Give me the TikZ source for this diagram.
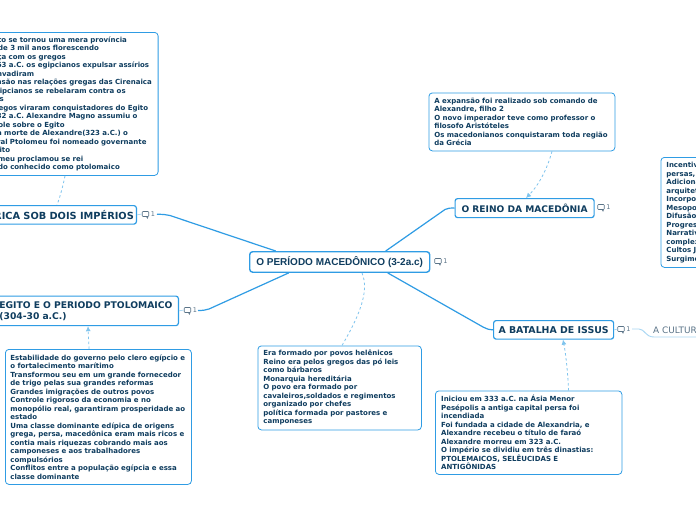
\documentclass[tikz,border=0pt]{standalone}
\usepackage{fontspec}
\setmainfont{DejaVu Sans}
\newfontfamily\rootfont{Liberation Sans}
\usetikzlibrary{arrows.meta}
\definecolor{ink}{HTML}{0F3D5F}
\definecolor{edge}{HTML}{2F9CE4}
\definecolor{dashc}{HTML}{7FC4EE}
\definecolor{pale}{HTML}{A9D7F3}
\definecolor{grayink}{HTML}{5B7488}
\tikzset{
 x=1pt,y=-1pt,
 notebox/.style={draw=edge,line width=0.8pt,rounded corners=3.5pt,fill=white,anchor=north west,inner sep=0pt,text=ink,align=left,font=\fontsize{7}{8.5}\selectfont\bfseries},
 topic/.style={draw=edge,line width=1.2pt,rounded corners=2.5pt,fill=white,anchor=north west,inner sep=0pt,text=ink,align=center,font=\fontsize{9.1}{11}\selectfont\bfseries},
 rootbox/.style={draw=edge,line width=1.4pt,rounded corners=3pt,fill=white,anchor=north west,inner sep=0pt,text=ink,align=center,font=\rootfont\fontsize{10}{12}\selectfont\bfseries},
 branch/.style={draw=edge,line width=1.2pt},
 link/.style={draw=dashc,line width=0.8pt,dash pattern=on 2.5pt off 2.5pt},
 linka/.style={link,-{Latex[length=5pt,width=5pt]}},
 thin branch/.style={draw=pale,line width=0.9pt},
 bubble/.style={draw=grayink,line width=0.6pt,rounded corners=0.8pt,minimum width=6.5pt,minimum height=5pt,inner sep=0pt},
 countlab/.style={text=grayink,inner sep=0pt,font=\fontsize{6.5}{7}\selectfont},
}
\newcommand{\comment}[3]{%
 \node[bubble] (#1b) at (#2,#3) {};
 \draw[grayink,line width=0.5pt] ([xshift=1pt]#1b.south) -- ++(1,1.5) -- ++(0.6,-1.5);
 \node[countlab,anchor=west] (#1n) at ([xshift=1.5pt]#1b.east) {1};
}
\begin{document}
\begin{tikzpicture}
\useasboundingbox (0,0) rectangle (696,520);
\fill[white] (0,0) rectangle (696,520);
\coordinate (africaEnd) at (157,214.3);
\coordinate (egitoEnd) at (198,310.5);
\coordinate (batEnd) at (632,329);
\coordinate (culturaEnd) at (696,337);

\node[rootbox,minimum width=180pt,minimum height=20.5pt] (root) at (249,251) {O PERÍODO MACEDÔNICO (3-2a.c)};
\node[topic,minimum width=139pt,minimum height=19pt] (reino) at (454.5,198) {O REINO DA MACEDÔNIA};
\node[topic,minimum width=120pt,minimum height=18.5pt,font=\fontsize{9.4}{11}\selectfont\bfseries] (batalha) at (493,320) {A BATALHA DE ISSUS};
\node[topic,minimum width=190pt,minimum height=18.5pt,text width=185pt,align=right,anchor=north east,font=\fontsize{9.8}{11}\selectfont\bfseries] (africa) at (137,205) {A ÁFRICA SOB DOIS IMPÉRIOS};
\node[topic,minimum width=183pt,minimum height=29.5pt,text width=175pt,align=left,anchor=north east,font=\fontsize{9.2}{11}\selectfont\bfseries] (egito) at (179,295.5) {EGITO E O PERIODO PTOLOMAICO\\(304-30 a.C.)};

\node[notebox,minimum width=181pt,minimum height=143pt,text width=180pt,anchor=north east] (nafrica) at (158.5,32) {%
O Egito se tornou uma mera província\\
Mais de 3 mil anos florescendo\\
Aliança com os gregos\\
Em 663 a.C. os egipcianos expulsar assírios\\
que invadiram\\
Expansão nas relações gregas das Cirenaica\\
Os egipcianos se rebelaram contra os\\
persas\\
Os gregos viraram conquistadores do Egito\\
Em 332 a.C. Alexandre Magno assumiu o\\
controle sobre o Egito\\
Com a morte de Alexandre(323 a.C.) o\\
general Ptolomeu foi nomeado governante\\
do Egito\\
Ptolomeu proclamou se rei\\
Período conhecido como ptolomaico};

\node[notebox,minimum width=186pt,minimum height=135pt,text width=176pt] (negito) at (5,349) {%
Estabilidade do governo pelo clero egípcio e\\
o fortalecimento marítimo\\
Transformou seu em um grande fornecedor\\
de trigo pelas sua grandes reformas\\
Grandes imigrações de outros povos\\
Controle rigoroso da economia e no\\
monopólio real, garantiram prosperidade ao\\
estado\\
Uma classe dominante edípica de origens\\
grega, persa, macedônica eram mais ricos e\\
contia mais riquezas cobrando mais aos\\
camponeses e aos trabalhadores\\
compulsórios\\
Conflitos entre a população egípcia e essa\\
classe dominante};

\node[notebox,minimum width=186pt,minimum height=58pt,text width=175pt] (nreino) at (428.5,92.5) {%
A expansão foi realizado sob comando de\\
Alexandre, filho 2\\
O novo imperador teve como professor o\\
filosofo Aristóteles\\
Os macedonianos conquistaram toda região\\
da Grécia};

\node[notebox,minimum width=163.5pt,minimum height=84pt,text width=152.5pt] (nera) at (257.5,345.5) {%
Era formado por povos helênicos\\
Reino era pelos gregos das pó leis\\
como bárbaros\\
Monarquia hereditária\\
O povo era formado por\\
cavaleiros,soldados e regimentos\\
organizado por chefes\\
política formada por pastores e\\
camponeses};

\node[notebox,minimum width=186.5pt,minimum height=83.5pt,text width=175pt] (nbat) at (435,390.5) {%
Iniciou em 333 a.C. na Ásia Menor\\
Pesépolis a antiga capital persa foi\\
incendiada\\
Foi fundada a cidade de Alexandria, e\\
Alexandre recebeu o título de faraó\\
Alexandre morreu em 323 a.C.\\
O império se dividiu em três dinastias:\\
PTOLEMAICOS, SELÊUCIDAS E\\
ANTIGÔNIDAS};

\node[notebox,minimum width=90pt,minimum height=110pt,text width=79pt] (ncult) at (660.5,157) {%
Incentivo\\
persas,\\
Adicionaram\\
arquitetura\\
Incorporação\\
Mesopotâmia\\
Difusão\\
Progresso\\
Narrativas\\
complexas\\
Cultos Judaicos\\
Surgimento};

\node[text=grayink,inner sep=0pt,anchor=west,font=\fontsize{8.9}{10}\selectfont] (cultura) at (653,330) {A CULTURA};

\comment{cr}{438}{261}
\comment{cm}{601}{207}
\comment{ca}{145.5}{214}
\comment{ce}{187.5}{310}
\comment{cb}{621}{329}

\draw[pale,line width=0.7pt] (africa.east) -- (cab.west);
\draw[pale,line width=0.7pt] (egito.east) -- (ceb.west);
\draw[pale,line width=0.7pt] (batalha.east) -- (cbb.west);

% branches
\draw[branch] ([xshift=-64pt]root.north) -- (170,215.5) .. controls (166,214.5) and (163,214.3) .. (africaEnd);
\draw[branch] ([xshift=-51pt]root.south) -- (209,309) .. controls (206,310) and (203,310.5) .. (egitoEnd);
\draw[branch] ([xshift=46pt]root.north) -- (445,209.5) .. controls (448,208) and (450,208) .. (reino.west);
\draw[branch] ([xshift=48pt]root.south) -- (483,327) .. controls (486,329) and (489,329.5) .. (batalha.west);
\draw[thin branch] (batEnd) -- (639,329) .. controls (645,329) and (645,337) .. (654,337) -- (culturaEnd);

% note links
\draw[link] (nafrica.south -| 65,0) .. controls (63,186) and (60,197) .. (africa.north -| 57,0);
\draw[linka] (nreino.south -| 552,0) .. controls (547,170) and (538,186) .. (reino.north -| 526,0);
\draw[link] (root.south -| 362,0) .. controls (370,292) and (358,318) .. (nera.north -| 342,0);
\draw[linka] (negito.north -| 89,0) -- (egito.south -| 88,0);
\draw[linka] (nbat.north -| 568.5,0) .. controls (568,375) and (566,355) .. (batalha.south -| 563,0);
\end{tikzpicture}
\end{document}
